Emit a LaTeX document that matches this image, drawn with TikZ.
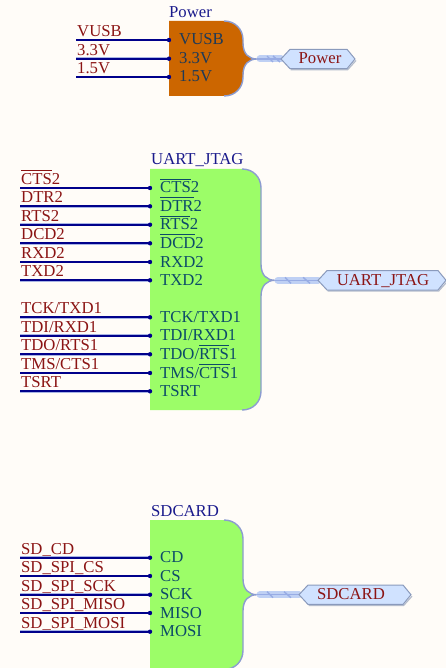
\documentclass[tikz,border=0pt]{standalone}
\usepackage{fontspec}
\setmainfont{Liberation Serif}
\definecolor{bgc}{HTML}{FFFCF8}
\definecolor{netc}{HTML}{00008B}
\definecolor{haloc}{HTML}{A8B4E4}
\definecolor{redc}{HTML}{8B1414}
\definecolor{titlec}{HTML}{1A1A8C}
\definecolor{pingreen}{HTML}{0C4A68}
\definecolor{pinorange}{HTML}{1E3A58}
\definecolor{orangec}{HTML}{CC6600}
\definecolor{greenc}{HTML}{9CFD68}
\definecolor{edgec}{HTML}{8C9CD0}
\definecolor{busc}{HTML}{BFD0F4}
\definecolor{buslinec}{HTML}{98ACE4}
\definecolor{portc}{HTML}{D0E2FF}
\definecolor{portedge}{HTML}{8A9ABC}
\definecolor{shadowc}{HTML}{B4BCCC}
\newcommand{\ovl}[1]{\setbox0\hbox{#1}\rlap{\rule[13pt]{\wd0}{1.2pt}}\box0 }
\tikzset{
  txt/.style={inner sep=0pt,font=\fontsize{16.7}{18}\selectfont},
  netlabel/.style={txt,anchor=base west,text=redc},
  title/.style={txt,anchor=base west,text=titlec},
  pintext/.style={txt,anchor=base west,text=pingreen},
  porttext/.style={txt,anchor=base,text=redc},
  net/.style={draw=netc,line width=1.7pt,preaction={draw=haloc,line width=2.6pt}},
  pindot/.style={circle,fill=netc,inner sep=0pt,minimum size=4.4pt},
  edgeline/.style={draw=edgec,line width=1.4pt},
  busline/.style={draw=busc,line width=7pt,line cap=round},
  busmid/.style={draw=buslinec,line width=1.2pt},
  portshape/.style={fill=portc,draw=portedge,line width=1pt},
  portshadow/.style={draw=shadowc,line width=1.2pt},
}
% id, y, x0, x1, label, pin text
\newcommand{\pinrow}[6]{%
  \node[netlabel] (#1-lab) at (#3+1,#2-3.6) {#5};
  \coordinate (#1-from) at (#3,#2);
  \node[pindot] (#1-dot) at (#4,#2) {};
  \draw[net] (#1-from) -- (#1-dot);
  \node[pintext] (#1-pin) at (#4+10,#2+5) {#6};
}
% fill colour, x0, top, bottom, side x, tip x, tip y
\newcommand{\sheetbody}[7]{%
  \fill[#1] (#2,#3) -- (#5-19,#3)
    .. controls (#5-8,#3) and (#5,#3+8) .. (#5,#3+19)
    -- (#5,#7-16) .. controls (#5,#7-5) and (#6-8,#7) .. (#6,#7)
    .. controls (#6-8,#7) and (#5,#7+5) .. (#5,#7+16)
    -- (#5,#4-19) .. controls (#5,#4-8) and (#5-8,#4) .. (#5-19,#4)
    -- (#2,#4) -- cycle;
  \draw[edgeline] (#5-19,#3)
    .. controls (#5-8,#3) and (#5,#3+8) .. (#5,#3+19)
    -- (#5,#7-16) .. controls (#5,#7-5) and (#6-8,#7) .. (#6,#7)
    .. controls (#6-8,#7) and (#5,#7+5) .. (#5,#7+16)
    -- (#5,#4-19) .. controls (#5,#4-8) and (#5-8,#4) .. (#5-19,#4);
}
% id, tip x (sheet), y, port left tip, port right tip, text centre, text, 2nd slash offset
\newcommand{\portbus}[8]{%
  \coordinate (#1-tip) at (#2,#3);
  \coordinate (#1-pl) at (#4,#3);
  \draw[busline] (#2+3,#3) -- (#1-pl);
  \draw[busmid] (#1-tip) -- (#1-pl);
  \draw[draw=buslinec,line width=1.4pt] (#2+10,#3-3) -- (#2+16,#3+3);
  \draw[draw=buslinec,line width=1.4pt] (#2+#8,#3-3) -- (#2+#8+7,#3+3);
  \draw[portshadow] (#4+9.7,#3+10.7) -- (#5-7.3,#3+10.7) -- (#5+1,#3+1.5);
  \draw[portshape] (#1-pl) -- (#4+9,#3-9.7) -- (#5-8,#3-9.7) -- (#5,#3) -- (#5-8,#3+9.7) -- (#4+9,#3+9.7) -- cycle;
  \node[porttext] (#1-port) at (#6,#3+4.7) {#7};
}
\begin{document}
\begin{tikzpicture}[x=1pt,y=-1pt]
\useasboundingbox (0,0) rectangle (446,668);
\clip (0,0) rectangle (446,668);
\fill[bgc] (0,0) rectangle (446,668);

% Power
\node[title] (pwrtitle) at (169,18) {Power};
\sheetbody{orangec}{169}{21}{96}{243}{257}{59}
\portbus{pwr}{257}{59}{281}{355}{320}{Power}{16}
\begin{scope}[pintext/.style={txt,anchor=base west,text=pinorange}]
\pinrow{vusb}{40}{76}{169}{VUSB}{VUSB}
\pinrow{vt}{58.7}{76}{169}{3.3V}{3.3V}
\pinrow{vo}{77}{76}{169}{1.5V}{1.5V}
\end{scope}

% UART_JTAG
\node[title] (uarttitle) at (151,165) {UART\_JTAG};
\sheetbody{greenc}{150}{169}{410}{261}{275}{280.3}
\portbus{uart}{275}{280.3}{318}{446}{383}{UART\_JTAG}{28}
\pinrow{cts}{188}{20}{150}{\ovl{CTS}2}{\ovl{CTS}2}
\pinrow{dtr}{206.3}{20}{150}{DTR2}{\ovl{DTR}2}
\pinrow{rts}{224.7}{20}{150}{RTS2}{\ovl{RTS}2}
\pinrow{dcd}{243.3}{20}{150}{DCD2}{\ovl{DCD}2}
\pinrow{rxd}{262}{20}{150}{RXD2}{RXD2}
\pinrow{txd}{280.3}{20}{150}{TXD2}{TXD2}
\pinrow{tck}{317.3}{20}{150}{TCK/TXD1}{TCK/TXD1}
\pinrow{tdi}{335.7}{20}{150}{TDI/RXD1}{TDI/RXD1}
\pinrow{tdo}{354.3}{20}{150}{TDO/RTS1}{TDO/\ovl{RTS}1}
\pinrow{tms}{373}{20}{150}{TMS/CTS1}{TMS/\ovl{CTS}1}
\pinrow{tsrt}{391.3}{20}{150}{TSRT}{TSRT}

% SDCARD
\node[title] (sdtitle) at (151,516.7) {SDCARD};
\sheetbody{greenc}{150}{520}{669.4}{243}{257}{594.7}
\portbus{sd}{257}{594.7}{299}{411}{351}{SDCARD}{27}
\pinrow{cd}{557.7}{20}{150}{SD\_CD}{CD}
\pinrow{cs}{576}{20}{150}{SD\_SPI\_CS}{CS}
\pinrow{sck}{594.7}{20}{150}{SD\_SPI\_SCK}{SCK}
\pinrow{miso}{613}{20}{150}{SD\_SPI\_MISO}{MISO}
\pinrow{mosi}{631.7}{20}{150}{SD\_SPI\_MOSI}{MOSI}
\end{tikzpicture}
\end{document}
